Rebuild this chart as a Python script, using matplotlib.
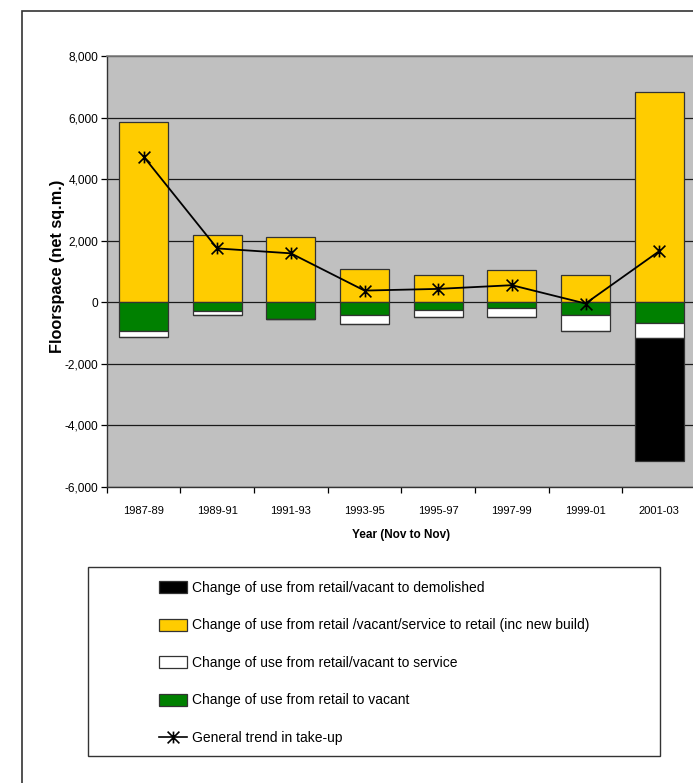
import numpy as np
import matplotlib
matplotlib.use("Agg")
import matplotlib.pyplot as plt
from matplotlib.patches import Patch, Rectangle
from matplotlib.lines import Line2D
from matplotlib.path import Path
from matplotlib.ticker import FuncFormatter, FixedLocator

plt.rcParams["font.family"] = ["Liberation Sans", "DejaVu Sans"]

# Floorspace change per two-year period (net sq.m.)
periods = ["1987-89", "1989-91", "1991-93", "1993-95",
           "1995-97", "1997-99", "1999-01", "2001-03"]
to_retail = [5850, 2170, 2120, 1080, 900, 1040, 900, 6820]
to_vacant = [-920, -280, -530, -410, -250, -195, -400, -670]
to_service = [-195, -140, 0, -290, -215, -290, -540, -490]
to_demolished = [0, 0, 0, 0, 0, 0, 0, -4000]

yellow = "#FFCC00"
green = "#008000"
grey_bg = "#C0C0C0"

x = np.arange(len(periods))
retail = np.array(to_retail)
vacant = np.array(to_vacant)
service = np.array(to_service)
demolished = np.array(to_demolished)
trend = retail + vacant + service + demolished

fig = plt.figure(figsize=(6.93, 7.83), dpi=100)
W, H = 693, 783

# outer chart border
fig.add_artist(Rectangle((22 / W, -0.1), 1.2, 1 - 11 / H + 0.1,
                         transform=fig.transFigure, fill=False,
                         edgecolor="#333333", lw=1.2))

ax = fig.add_axes([106.7 / W, 1 - 487 / H, 589.3 / W, 431 / H])
ax.set_facecolor(grey_bg)
ax.set_axisbelow(True)

bw = 0.665
edge = dict(edgecolor="#333333", linewidth=0.9)
ax.bar(x, retail, bw, color=yellow, **edge)
ax.bar(x, vacant, bw, color=green, **edge)
ax.bar(x, service, bw, bottom=vacant, color="white", **edge)
ax.bar(x, demolished, bw, bottom=vacant + service, color="black", **edge)

# asterisk marker used by the trend line
star = Path([(0, -1), (0, 1), (-1, -1), (1, 1), (-1, 1), (1, -1)],
            [Path.MOVETO, Path.LINETO] * 3)
ax.plot(x, trend, color="black", lw=1.3, marker=star, markersize=8.5,
        markeredgewidth=1.2, zorder=5)

ax.set_xlim(-0.5, len(periods) - 0.5)
ax.set_ylim(-6000, 8000)
ax.set_yticks(np.arange(-6000, 8001, 2000))
ax.yaxis.set_major_formatter(FuncFormatter(lambda v, p: f"{v:,.0f}"))
ax.grid(axis="y", color="#1a1a1a", lw=0.9)

ax.xaxis.set_major_locator(FixedLocator(np.arange(-0.5, len(periods), 1.0)))
ax.xaxis.set_major_formatter(FuncFormatter(lambda v, p: ""))
ax.xaxis.set_minor_locator(FixedLocator(x))
ax.set_xticklabels(periods, minor=True)
ax.tick_params(axis="x", which="major", direction="out", length=4, width=0.9)
ax.tick_params(axis="x", which="minor", length=0, pad=14, labelsize=8)
ax.tick_params(axis="y", direction="out", length=4.5, width=0.9, pad=1.5,
               labelsize=8.6)

for side in ["left", "bottom"]:
    ax.spines[side].set_color("#333333")
    ax.spines[side].set_linewidth(1.0)
ax.spines["top"].set_color("#808080")
ax.spines["top"].set_linewidth(1.2)
ax.spines["right"].set_visible(False)

ax.set_ylabel("Floorspace (net sq.m.)", fontsize=11.7, fontweight="bold")
ax.yaxis.set_label_coords(-0.0713, 0.513)
ax.set_xlabel("Year (Nov to Nov)", fontsize=8.5, fontweight="bold")
ax.xaxis.set_label_coords(0.5, -0.0975)

# legend box
fig.add_artist(Rectangle((88.3 / W, 1 - 756.3 / H), (660 - 88.3) / W,
                         (756.3 - 567.3) / H, transform=fig.transFigure,
                         fill=False, edgecolor="#333333", lw=1.0))

handles = [
    Patch(facecolor="black", edgecolor="#333333", lw=0.9),
    Patch(facecolor=yellow, edgecolor="#333333", lw=0.9),
    Patch(facecolor="white", edgecolor="#333333", lw=0.9),
    Patch(facecolor=green, edgecolor="#333333", lw=0.9),
    Line2D([], [], color="black", lw=1.2, marker=star, markersize=8.5,
           markeredgewidth=1.2),
]
labels = [
    "Change of use from retail/vacant to demolished",
    "Change of use from retail /vacant/service to retail (inc new build)",
    "Change of use from retail/vacant to service",
    "Change of use from retail to vacant",
    "General trend in take-up",
]
fig.legend(handles, labels, loc="upper left",
           bbox_to_anchor=(159 / W, 1 - 581 / H), frameon=False,
           fontsize=10, borderpad=0, borderaxespad=0, handlelength=2.0,
           handleheight=0.93, handletextpad=0.36, labelspacing=1.69)

fig.savefig("out.png", dpi=100)
